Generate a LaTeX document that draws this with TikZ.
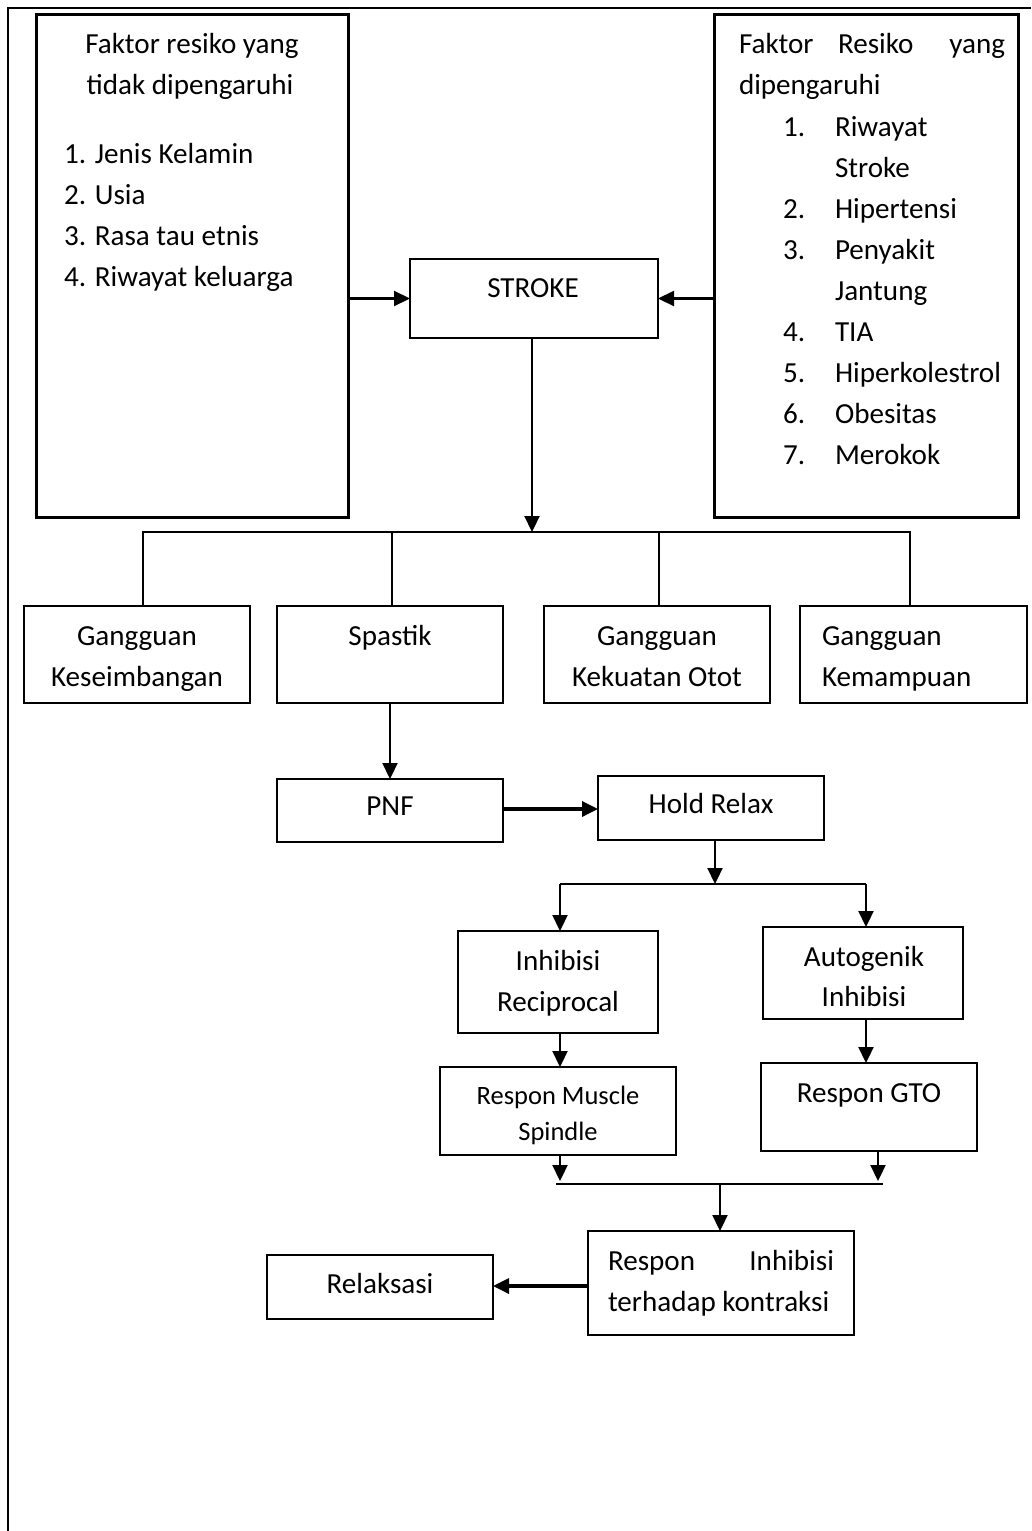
\documentclass[tikz,border=0pt]{standalone}
\usepackage{fontspec}
\setmainfont{Carlito}
\usetikzlibrary{arrows.meta}
\begin{document}
\begin{tikzpicture}[x=1pt,y=-1pt,
  box/.style={draw, line width=2.4pt, inner sep=0pt, outer sep=0pt, anchor=north west},
  bigbox/.style={box, line width=3pt},
  conn/.style={line width=2.2pt},
  thick conn/.style={line width=3.4pt},
  arr/.style={conn, -{Triangle[length=16pt,width=15pt]}},
  thickarr/.style={thick conn, -{Triangle[length=16pt,width=15pt]}},
  txt/.style={inner sep=0pt, outer sep=0pt, font=\fontsize{29.1}{35}\selectfont},
  stxt/.style={txt, font=\fontsize{26.5}{31}\selectfont}]
\useasboundingbox (0,0) rectangle (1031,1531);
% outer frame
\draw[line width=2pt] (8,1531) -- (8,8) -- (1031,8);

% boxes
\node[bigbox, minimum width=312pt, minimum height=503pt] (lb) at (36,14) {};
\node[bigbox, minimum width=304pt, minimum height=503pt] (rb) at (714,14) {};
\node[box, minimum width=248pt, minimum height=79pt] (st) at (410,259) {};
\node[box, minimum width=226pt, minimum height=97pt] (g1) at (24,606) {};
\node[box, minimum width=226pt, minimum height=97pt] (g2) at (277,606) {};
\node[box, minimum width=226pt, minimum height=97pt] (g3) at (544,606) {};
\node[box, minimum width=227pt, minimum height=97pt] (g4) at (800,606) {};
\node[box, minimum width=226pt, minimum height=63pt] (pnf) at (277,779) {};
\node[box, minimum width=226pt, minimum height=64pt] (hold) at (598,776) {};
\node[box, minimum width=200pt, minimum height=102pt] (ir) at (458,931) {};
\node[box, minimum width=200pt, minimum height=92pt] (ag) at (763,927) {};
\node[box, minimum width=236pt, minimum height=88pt] (rms) at (440,1067) {};
\node[box, minimum width=216pt, minimum height=88pt] (gto) at (761,1063) {};
\node[box, minimum width=266pt, minimum height=104pt] (ri) at (588,1231) {};
\node[box, minimum width=226pt, minimum height=64pt] (rel) at (267,1255) {};

% left box text
\node[txt, anchor=base] (l1) at (192,53) {Faktor resiko yang};
\node[txt, anchor=base] (l2) at (190,94) {tidak dipengaruhi};
\node[txt, anchor=base west] (l3) at (64,163) {1. Jenis Kelamin};
\node[txt, anchor=base west] (l4) at (64,204) {2. Usia};
\node[txt, anchor=base west] (l5) at (64,245) {3. Rasa tau etnis};
\node[txt, anchor=base west] (l6) at (64,286) {4. Riwayat keluarga};

% right box text
\node[txt, anchor=base west] (r1a) at (739,53) {Faktor};
\node[txt, anchor=base west] (r1b) at (838,53) {Resiko};
\node[txt, anchor=base east] (r1c) at (1005,53) {yang};
\node[txt, anchor=base west] (r2) at (739,94) {dipengaruhi};
\node[txt, anchor=base west] (n1) at (783,136) {1.};
\node[txt, anchor=base west] (i1) at (835,136) {Riwayat};
\node[txt, anchor=base west] (i1b) at (835,177) {Stroke};
\node[txt, anchor=base west] (n2) at (783,218) {2.};
\node[txt, anchor=base west] (i2) at (835,218) {Hipertensi};
\node[txt, anchor=base west] (n3) at (783,259) {3.};
\node[txt, anchor=base west] (i3) at (835,259) {Penyakit};
\node[txt, anchor=base west] (i3b) at (835,300) {Jantung};
\node[txt, anchor=base west] (n4) at (783,341) {4.};
\node[txt, anchor=base west] (i4) at (835,341) {TIA};
\node[txt, anchor=base west] (n5) at (783,382) {5.};
\node[txt, anchor=base west] (i5) at (835,382) {Hiperkolestrol};
\node[txt, anchor=base west] (n6) at (783,423) {6.};
\node[txt, anchor=base west] (i6) at (835,423) {Obesitas};
\node[txt, anchor=base west] (n7) at (783,464) {7.};
\node[txt, anchor=base west] (i7) at (835,464) {Merokok};

% other texts
\node[txt, anchor=base] (tst) at (533,297) {STROKE};
\node[txt, anchor=base] (tg1a) at (137,645) {Gangguan};
\node[txt, anchor=base] (tg1b) at (137,686) {Keseimbangan};
\node[txt, anchor=base] (tg2) at (390,645) {Spastik};
\node[txt, anchor=base] (tg3a) at (657,645) {Gangguan};
\node[txt, anchor=base] (tg3b) at (657,686) {Kekuatan Otot};
\node[txt, anchor=base west] (tg4a) at (822,645) {Gangguan};
\node[txt, anchor=base west] (tg4b) at (822,686) {Kemampuan};
\node[txt, anchor=base] (tpnf) at (390,815) {PNF};
\node[txt, anchor=base] (thold) at (711,813) {Hold Relax};
\node[txt, anchor=base] (tir1) at (558,970) {Inhibisi};
\node[txt, anchor=base] (tir2) at (558,1011) {Reciprocal};
\node[txt, anchor=base] (tag1) at (864,966) {Autogenik};
\node[txt, anchor=base] (tag2) at (864,1006) {Inhibisi};
\node[stxt, anchor=base] (trms1) at (558,1104) {Respon Muscle};
\node[stxt, anchor=base] (trms2) at (558,1140) {Spindle};
\node[txt, anchor=base] (tgto) at (869,1102) {Respon GTO};
\node[txt, anchor=base west] (tri1a) at (608,1270) {Respon};
\node[txt, anchor=base east] (tri1b) at (834,1270) {Inhibisi};
\node[txt, anchor=base west] (tri2) at (608,1311) {terhadap kontraksi};
\node[txt, anchor=base] (trel) at (380,1293) {Relaksasi};

% connectors top
\draw[arr] (lb.east |- st.center) -- (st.west);
\draw[arr] (rb.west |- st.center) -- (st.east);
\coordinate (hub) at (532,532);
\coordinate (j1) at (143,532);
\coordinate (j2) at (392,532);
\coordinate (j3) at (659,532);
\coordinate (j4) at (910,532);
\draw[arr] (st.south -| hub) -- (hub);
\draw[conn] (j1 |- g1.north) -- (j1) -- (j4) -- (j4 |- g4.north);
\draw[conn] (j2) -- (j2 |- g2.north);
\draw[conn] (j3) -- (j3 |- g3.north);

% middle
\draw[arr] (g2.south) -- (pnf.north);
\draw[thickarr] (pnf.east |- 0,809) -- (hold.west |- 0,809);
\coordinate (hb) at (715,884);
\coordinate (hbl) at (560,884);
\coordinate (hbr) at (866,884);
\draw[arr] (hb |- hold.south) -- (hb);
\draw[conn] (hbl) -- (hbr);
\draw[arr] (hbl) -- (hbl |- ir.north);
\draw[arr] (hbr) -- (hbr |- ag.north);
\draw[arr] (hbl |- ir.south) -- (hbl |- rms.north);
\draw[arr] (hbr |- ag.south) -- (hbr |- gto.north);

% bottom
\coordinate (bl) at (556,1184);
\coordinate (br) at (883,1184);
\coordinate (bm) at (720,1184);
\coordinate (ms) at (560,1181);
\coordinate (gs) at (878,1181);
\draw[arr] (ms |- rms.south) -- (ms);
\draw[arr] (gs |- gto.south) -- (gs);
\draw[conn] (bl) -- (br);
\draw[arr] (bm) -- (bm |- ri.north);
\draw[thickarr] (ri.west |- 0,1286) -- (rel.east |- 0,1286);
\end{tikzpicture}
\end{document}
